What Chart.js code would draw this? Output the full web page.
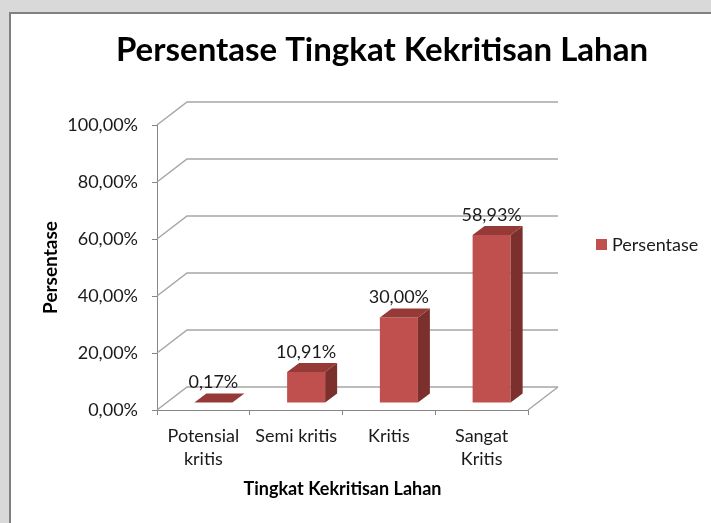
<!DOCTYPE html>
<html>
<head>
<meta charset="utf-8">
<script src="https://cdn.jsdelivr.net/npm/chart.js@4/dist/chart.umd.min.js"></script>
<style>
  html, body { margin: 0; padding: 0; background: #d9d9d9; }
  canvas { display: block; }
</style>
</head>
<body>
<canvas id="grafik" width="711" height="523"></canvas>
<script>
// Data grafik
const kategori = [['Potensial', 'kritis'], 'Semi kritis', 'Kritis', ['Sangat', 'Kritis']]
const persentase = [0.17, 10.91, 30.0, 58.93]
const labelSumbuY = ['0,00%', '20,00%', '40,00%', '60,00%', '80,00%', '100,00%']
const judul = 'Persentase Tingkat Kekritisan Lahan'
const namaSeri = 'Persentase'

const FONT = 'Lato'
const WARNA_BATANG = '#c0504d'
const WARNA_ATAS = '#963a37'
const WARNA_SISI = '#7b302e'
const WARNA_GRID = '#a6a6a6'
const WARNA_SUMBU = '#868686'

// offset 3D
const DINDING = { dx: 30, dy: -23 } // dinding belakang
const BIDANG = { dx: 10, dy: -7 } // posisi muka depan batang
const TEBAL = { dx: 12, dy: -9 } // kedalaman batang

function formatPersen(v) {
	return v.toFixed(2).replace('.', ',') + '%'
}

// latar abu-abu + panel putih dengan garis tepi
const latar = {
	id: 'latar',
	afterLayout(chart) {
		// judul di tengah seluruh panel, bukan hanya area kiri
		const t = chart.titleBlock
		if (t) {
			t.left = 53
			t.right = 711
			t.width = t.right - t.left
		}
	},
	beforeDraw(chart) {
		const ctx = chart.ctx
		ctx.save()
		ctx.fillStyle = '#d9d9d9'
		ctx.fillRect(0, 0, chart.width, chart.height)
		ctx.fillStyle = '#ffffff'
		ctx.fillRect(11, 14, chart.width - 11, chart.height - 14)
		ctx.fillStyle = '#808080'
		ctx.fillRect(9, 12, chart.width - 9, 2)
		ctx.fillRect(9, 12, 2, chart.height - 12)
		ctx.restore()
	},
}

// gridline 3D, batang 3D, label nilai, legenda
const efek3d = {
	id: 'efek3d',
	beforeDatasetsDraw(chart) {
		const ctx = chart.ctx
		const { left, right, bottom } = chart.chartArea
		const y = chart.scales.y
		ctx.save()
		ctx.strokeStyle = WARNA_GRID
		ctx.lineWidth = 1.5
		y.ticks.forEach((t) => {
			const py = y.getPixelForValue(t.value)
			ctx.beginPath()
			ctx.moveTo(left, py)
			ctx.lineTo(left + DINDING.dx, py + DINDING.dy)
			ctx.lineTo(right + DINDING.dx, py + DINDING.dy)
			ctx.stroke()
		})
		// sisi kanan lantai
		ctx.beginPath()
		ctx.moveTo(right, bottom)
		ctx.lineTo(right + DINDING.dx, bottom + DINDING.dy)
		ctx.stroke()
		ctx.restore()

		ctx.save()
		ctx.translate(BIDANG.dx, BIDANG.dy)
	},
	afterDatasetsDraw(chart) {
		const ctx = chart.ctx
		ctx.restore()
		const meta = chart.getDatasetMeta(0)
		ctx.save()
		meta.data.forEach((bar, i) => {
			const kiri = bar.x - bar.width / 2 + BIDANG.dx
			const kanan = bar.x + bar.width / 2 + BIDANG.dx
			const atas = bar.y + BIDANG.dy
			const bawah = bar.base + BIDANG.dy
			// sisi kanan
			ctx.fillStyle = WARNA_SISI
			ctx.beginPath()
			ctx.moveTo(kanan, atas)
			ctx.lineTo(kanan + TEBAL.dx, atas + TEBAL.dy)
			ctx.lineTo(kanan + TEBAL.dx, bawah + TEBAL.dy)
			ctx.lineTo(kanan, bawah)
			ctx.closePath()
			ctx.fill()
			// atas
			ctx.fillStyle = WARNA_ATAS
			ctx.beginPath()
			ctx.moveTo(kiri, atas)
			ctx.lineTo(kiri + TEBAL.dx, atas + TEBAL.dy)
			ctx.lineTo(kanan + TEBAL.dx, atas + TEBAL.dy)
			ctx.lineTo(kanan, atas)
			ctx.closePath()
			ctx.fill()
			// label nilai
			ctx.fillStyle = '#1a1a1a'
			ctx.font = '18px ' + FONT
			ctx.textAlign = 'center'
			ctx.textBaseline = 'middle'
			ctx.fillText(formatPersen(persentase[i]), (kiri + kanan) / 2, atas - 20)
		})
		// legenda
		ctx.fillStyle = WARNA_BATANG
		ctx.fillRect(596, 239, 11, 11)
		ctx.fillStyle = '#1a1a1a'
		ctx.font = '18px ' + FONT
		ctx.textAlign = 'left'
		ctx.textBaseline = 'middle'
		ctx.fillText(chart.data.datasets[0].label, 612, 245)
		ctx.restore()
	},
}

const ctx = document.getElementById('grafik').getContext('2d')
const chart = new Chart(ctx, {
	type: 'bar',
	data: {
		labels: kategori,
		datasets: [
			{
				label: namaSeri,
				data: persentase,
				backgroundColor: WARNA_BATANG,
				borderWidth: 0,
				barPercentage: 0.41,
				categoryPercentage: 1,
			},
		],
	},
	options: {
		responsive: false,
		animation: false,
		layout: { padding: { left: 11, right: 183, top: 14, bottom: 0 } },
		plugins: {
			legend: { display: false },
			tooltip: { enabled: false },
			title: {
				display: true,
				text: judul,
				color: '#000',
				font: { family: FONT, size: 33, weight: 'bold', lineHeight: 1.2 },
				padding: { top: 17, bottom: 54.4 },
			},
		},
		scales: {
			x: {
				grid: {
					display: true,
					drawOnChartArea: false,
					offset: true,
					drawTicks: true,
					tickLength: 5,
					color: WARNA_SUMBU,
				},
				border: { display: true, color: WARNA_SUMBU, width: 1 },
				ticks: {
					padding: 9.5,
					maxRotation: 0,
					autoSkip: false,
					color: '#1a1a1a',
					font: { family: FONT, size: 18, lineHeight: 23 / 18 },
				},
				title: {
					display: true,
					text: 'Tingkat Kekritisan Lahan',
					color: '#000',
					font: { family: FONT, size: 18, weight: 'bold', lineHeight: 1.2 },
					padding: { top: 0, bottom: 23 },
				},
				afterFit: (s) => {
					s.height = 113
				},
			},
			y: {
				min: 0,
				max: 100,
				grid: {
					display: true,
					drawOnChartArea: false,
					drawTicks: true,
					tickLength: 5,
					color: WARNA_SUMBU,
				},
				border: { display: true, color: WARNA_SUMBU, width: 1 },
				ticks: {
					stepSize: 20,
					padding: 14,
					color: '#1a1a1a',
					font: { family: FONT, size: 18 },
					callback: (v, i) => labelSumbuY[i],
				},
				title: {
					display: true,
					text: 'Persentase',
					color: '#000',
					font: { family: FONT, size: 19, weight: 'bold', lineHeight: 1.2 },
					padding: { top: 28, bottom: 0 },
				},
				afterFit: (s) => {
					s.width = 157 - 11
				},
			},
		},
	},
	plugins: [latar, efek3d],
})
</script>
</body>
</html>
